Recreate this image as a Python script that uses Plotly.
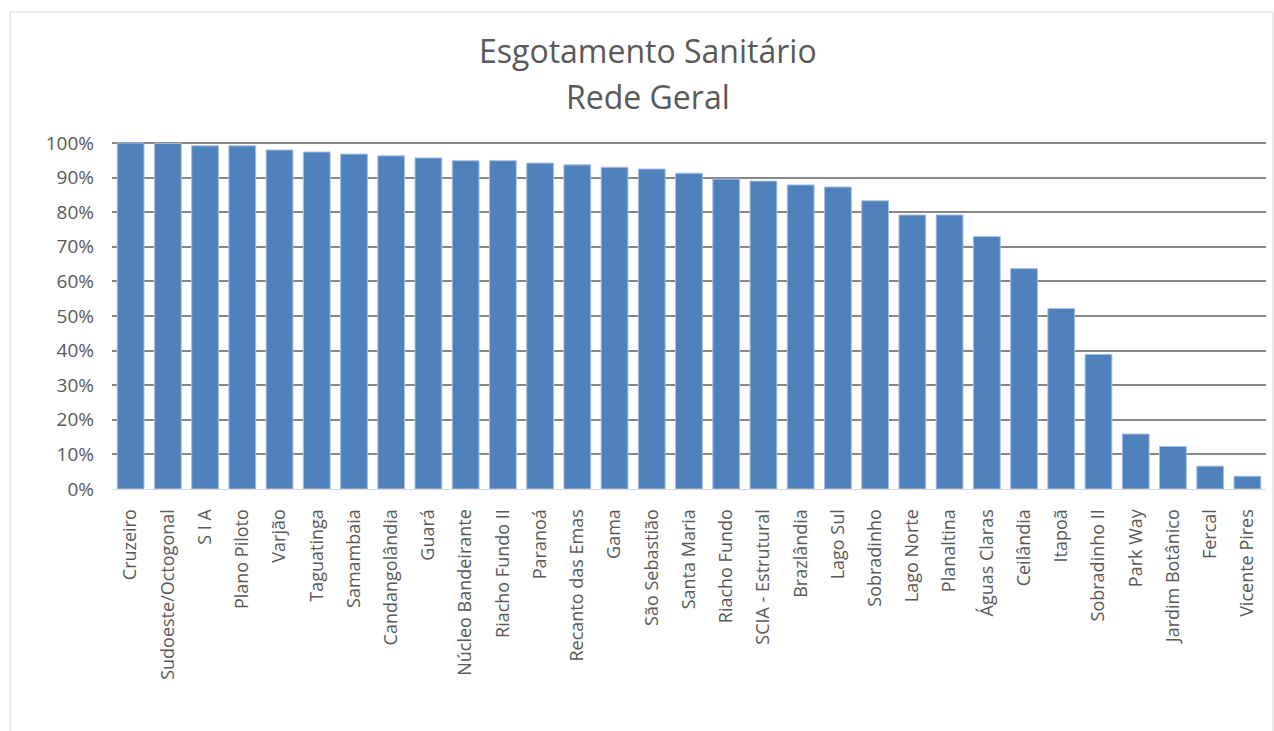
import plotly.graph_objects as go

# Regiões administrativas do DF e parcela de domicílios ligados à rede geral de esgoto
regioes = [
    "Cruzeiro", "Sudoeste/Octogonal", "S I A", "Plano Piloto", "Varjão",
    "Taguatinga", "Samambaia", "Candangolândia", "Guará", "Núcleo Bandeirante",
    "Riacho Fundo II", "Paranoá", "Recanto das Emas", "Gama", "São Sebastião",
    "Santa Maria", "Riacho Fundo", "SCIA - Estrutural", "Brazlândia", "Lago Sul",
    "Sobradinho", "Lago Norte", "Planaltina", "Águas Claras", "Ceilândia",
    "Itapoã", "Sobradinho II", "Park Way", "Jardim Botânico", "Fercal",
    "Vicente Pires",
]
rede_geral = [
    1.000, 0.999, 0.992, 0.992, 0.980,
    0.974, 0.968, 0.963, 0.957, 0.949,
    0.949, 0.942, 0.937, 0.930, 0.925,
    0.913, 0.896, 0.890, 0.879, 0.873,
    0.833, 0.792, 0.792, 0.730, 0.637,
    0.522, 0.389, 0.159, 0.123, 0.066,
    0.037,
]
y_ticks = [i / 10 for i in range(11)]
titulo = ["Esgotamento Sanitário", "Rede Geral"]

grey_text = "#595959"
font_family = "Open Sans, Liberation Sans, sans-serif"

fig = go.Figure(
    go.Bar(
        x=regioes,
        y=rede_geral,
        marker=dict(color="#4F81BD", line=dict(color="#a9c1df", width=1)),
        hoverinfo="x+y",
    )
)

# two-line heading, each line placed on its own
heading = [
    dict(
        text=line,
        xref="paper",
        yref="paper",
        x=0.4645,
        y=y,
        xanchor="center",
        yanchor="middle",
        showarrow=False,
        font=dict(size=32, color=grey_text, family=font_family),
    )
    for line, y in zip(titulo, [1.265, 1.132])
]

fig.update_layout(
    width=1274,
    height=731,
    margin=dict(l=112, r=8, t=142, b=242),
    paper_bgcolor="white",
    plot_bgcolor="white",
    bargap=0.28,
    showlegend=False,
    font=dict(family=font_family, color=grey_text),
    annotations=heading,
    xaxis=dict(
        tickangle=-90,
        tickfont=dict(size=18, color=grey_text),
        showgrid=False,
        showline=True,
        linecolor="#d9d9d9",
        linewidth=1,
        ticks="",
        ticklabelstandoff=12,
        automargin=False,
    ),
    yaxis=dict(
        range=[0, 1.003],
        tickvals=y_ticks,
        tickformat=".0%",
        tickfont=dict(size=19, color=grey_text),
        showgrid=True,
        gridcolor="#878787",
        gridwidth=1.5,
        zeroline=False,
        ticks="",
        ticklabelstandoff=17,
        automargin=False,
    ),
    shapes=[
        dict(
            type="rect",
            xref="paper",
            yref="paper",
            x0=-0.0884,
            x1=1.006,
            y0=-0.70,
            y1=1.3746,
            line=dict(color="#d9d9d9", width=1),
            layer="below",
        )
    ],
)

fig.write_html("out.html")
